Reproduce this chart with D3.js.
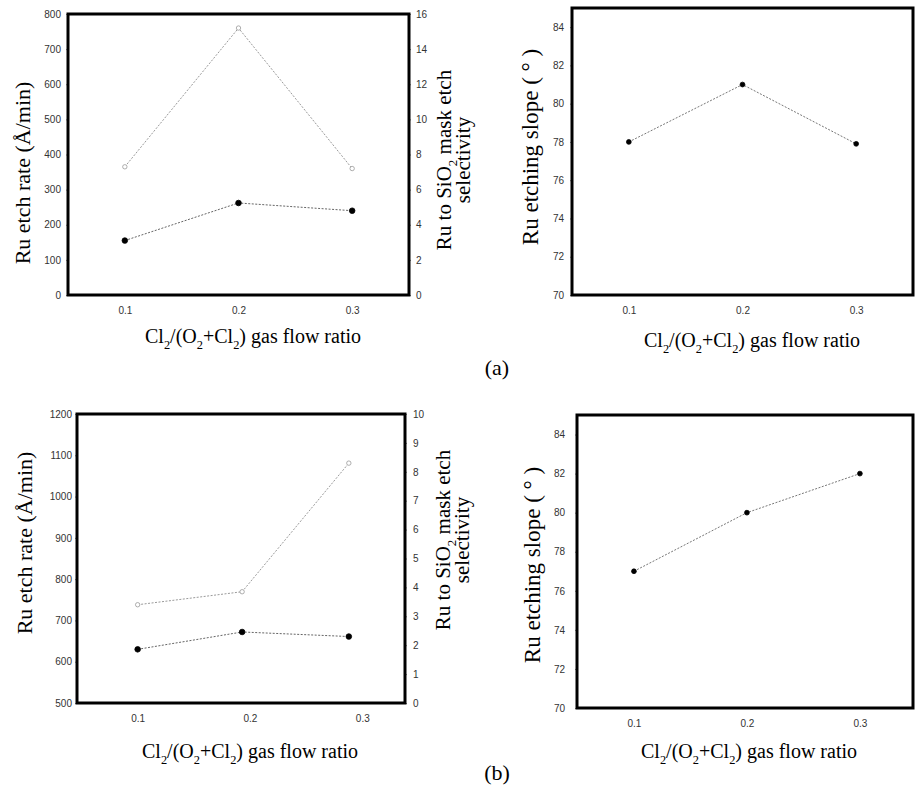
<!DOCTYPE html>
<html>
<head>
<meta charset="utf-8">
<script src="https://cdn.jsdelivr.net/npm/d3@7"></script>
<style>
  body { margin: 0; background: #fff; }
</style>
</head>
<body>
<div class="main"></div>
<script>
// gas flow ratio ticks
const ratioTicks = [0.1, 0.2, 0.3];

// (a) data
const ratioA = [0.1, 0.2, 0.3];
const etchRateA = [155, 262, 240];
const selectivityA = [7.3, 15.2, 7.2];
const slopeA = [78, 81, 77.9];

// (b) data
const ratioB = [0.1, 0.193, 0.288];
const etchRateB = [630, 672, 661];
const selectivityB = [3.4, 3.85, 8.3];
const ratioBSlope = [0.1, 0.2, 0.3];
const slopeB = [77, 80, 82];

// tick labels
const rateTicksA = [0, 100, 200, 300, 400, 500, 600, 700, 800];
const selTicksA = [0, 2, 4, 6, 8, 10, 12, 14, 16];
const slopeTicks = [70, 72, 74, 76, 78, 80, 82, 84];
const rateTicksB = [500, 600, 700, 800, 900, 1000, 1100, 1200];
const selTicksB = [0, 1, 2, 3, 4, 5, 6, 7, 8, 9, 10];

const serif = '"Liberation Serif", "Times New Roman", serif';
const sans = '"Liberation Sans", Arial, sans-serif';

let svg = d3.select('.main').append('svg')
  .attr('width', 916)
  .attr('height', 791);

// text with subscripts, each sub shifts down and the next part shifts back
let addRich = function(textSel, parts, size) {
  let shift = size * 0.3;
  let back = 0;
  parts.forEach(p => {
    let ts = textSel.append('tspan').text(p.t);
    if (p.sub) {
      ts.attr('dy', shift).attr('font-size', size * 0.62);
      back = -shift;
    } else if (back) {
      ts.attr('dy', back);
      back = 0;
    }
  });
};

let flowParts = [
  {t: 'Cl'}, {t: '2', sub: true}, {t: '/(O'}, {t: '2', sub: true},
  {t: '+Cl'}, {t: '2', sub: true}, {t: ') gas flow ratio'}
];

let styleTicks = function(axisG) {
  axisG.select('.domain').remove();
  axisG.selectAll('line').attr('stroke', '#888');
  axisG.selectAll('text').attr('font-family', sans).attr('font-size', 10).attr('fill', '#333');
};

let panel = function(cfg) {
  let x = d3.scaleLinear().domain(cfg.xDomain).range([cfg.left, cfg.right]);
  let y = d3.scaleLinear().domain(cfg.yDomain).range([cfg.bottom, cfg.top]);
  let g = svg.append('g');

  g.append('g')
    .attr('transform', `translate(${cfg.left},0)`)
    .call(d3.axisLeft(y).tickValues(cfg.yTicks).tickFormat(d3.format('d')).tickSize(2).tickPadding(cfg.padL))
    .call(styleTicks);

  if (cfg.y2Domain) {
    cfg.y2 = d3.scaleLinear().domain(cfg.y2Domain).range([cfg.bottom, cfg.top]);
    g.append('g')
      .attr('transform', `translate(${cfg.right},0)`)
      .call(d3.axisRight(cfg.y2).tickValues(cfg.y2Ticks).tickFormat(d3.format('d')).tickSize(2).tickPadding(cfg.padR))
      .call(styleTicks);
  }

  g.append('g')
    .attr('transform', `translate(0,${cfg.bottom})`)
    .call(d3.axisBottom(x).tickValues(ratioTicks).tickFormat(d3.format('.1f')).tickSize(0).tickPadding(cfg.padB))
    .call(styleTicks);

  // frame
  g.append('rect')
    .attr('x', cfg.left).attr('y', cfg.top)
    .attr('width', cfg.right - cfg.left).attr('height', cfg.bottom - cfg.top)
    .attr('fill', 'none').attr('stroke', '#000').attr('stroke-width', 3);

  // series
  cfg.series.forEach(s => {
    let ys = s.right ? cfg.y2 : y;
    let pts = s.xs.map((v, i) => [x(v), ys(s.ys[i])]);
    g.append('path')
      .attr('d', d3.line()(pts))
      .attr('fill', 'none')
      .attr('stroke', s.lineColor)
      .attr('stroke-width', 1)
      .attr('stroke-dasharray', '2,1.5');
    g.selectAll(null).data(pts).enter().append('circle')
      .attr('cx', d => d[0]).attr('cy', d => d[1])
      .attr('r', s.r)
      .attr('fill', s.fill)
      .attr('stroke', s.stroke)
      .attr('stroke-width', 0.8);
  });

  // x label
  let xl = g.append('text')
    .attr('x', cfg.xLabel[0]).attr('y', cfg.xLabel[1])
    .attr('text-anchor', 'middle').attr('font-family', serif).attr('font-size', 20).attr('fill', '#000');
  addRich(xl, flowParts, 20);

  // y label
  g.append('text')
    .attr('transform', `translate(${cfg.yLabel[0]},${cfg.yLabel[1]}) rotate(-90)`)
    .attr('text-anchor', 'middle').attr('dy', '0.35em')
    .attr('font-family', serif).attr('font-size', cfg.ySize).attr('fill', '#000')
    .text(cfg.yTitle);

  if (cfg.y2Label) {
    let t1 = g.append('text')
      .attr('transform', `translate(${cfg.y2Label[0]},${cfg.y2Label[1]}) rotate(-90)`)
      .attr('text-anchor', 'middle').attr('y', 7)
      .attr('font-family', serif).attr('font-size', 21).attr('fill', '#000');
    addRich(t1, [{t: 'Ru to SiO'}, {t: '2', sub: true}, {t: ' mask etch'}], 21);
    g.append('text')
      .attr('transform', `translate(${cfg.y2Label[0] + 19},${cfg.y2Label[1]}) rotate(-90)`)
      .attr('text-anchor', 'middle').attr('y', 7)
      .attr('font-family', serif).attr('font-size', 21).attr('fill', '#000')
      .text('selectivity');
  }
};

let rateStyle = {lineColor: '#666', fill: '#000', stroke: '#000', r: 2.8};
let selStyle = {lineColor: '#9a9a9a', fill: '#fff', stroke: '#999', r: 2.2};
let slopeStyle = {lineColor: '#777', fill: '#000', stroke: '#000', r: 2.4};

// (a) left
panel({
  left: 68, right: 409, top: 14, bottom: 295,
  xDomain: [0.05, 0.35], yDomain: [0, 800], yTicks: rateTicksA,
  y2Domain: [0, 16], y2Ticks: selTicksA,
  padL: 5, padR: 5, padB: 12,
  xLabel: [253, 343], yLabel: [22, 173], y2Label: [444, 160],
  yTitle: 'Ru etch rate (Å/min)', ySize: 22,
  series: [
    Object.assign({xs: ratioA, ys: selectivityA, right: true}, selStyle),
    Object.assign({xs: ratioA, ys: etchRateA}, rateStyle)
  ]
});

// (a) right
panel({
  left: 572, right: 913, top: 8, bottom: 295,
  xDomain: [0.05, 0.35], yDomain: [70, 85], yTicks: slopeTicks,
  padL: 6, padB: 12,
  xLabel: [752, 347], yLabel: [530, 147],
  yTitle: 'Ru etching slope ( ° )', ySize: 23,
  series: [Object.assign({xs: ratioA, ys: slopeA}, slopeStyle)]
});

// (b) left
panel({
  left: 77, right: 405, top: 414, bottom: 703,
  xDomain: [0.046, 0.338], yDomain: [500, 1200], yTicks: rateTicksB,
  y2Domain: [0, 10], y2Ticks: selTicksB,
  padL: 3, padR: 6, padB: 12,
  xLabel: [250, 758], yLabel: [24, 543], y2Label: [443, 540],
  yTitle: 'Ru etch rate (Å/min)', ySize: 22,
  series: [
    Object.assign({xs: ratioB, ys: selectivityB, right: true}, selStyle),
    Object.assign({xs: ratioB, ys: etchRateB}, rateStyle)
  ]
});

// (b) right
panel({
  left: 577, right: 913, top: 415, bottom: 708,
  xDomain: [0.0496, 0.347], yDomain: [70, 85], yTicks: slopeTicks,
  padL: 10, padB: 12,
  xLabel: [749, 758], yLabel: [532, 565],
  yTitle: 'Ru etching slope ( ° )', ySize: 23,
  series: [Object.assign({xs: ratioBSlope, ys: slopeB}, slopeStyle)]
});

svg.append('text')
  .attr('x', 497).attr('y', 375).attr('text-anchor', 'middle')
  .attr('font-family', serif).attr('font-size', 22).attr('fill', '#000')
  .text('(a)');
svg.append('text')
  .attr('x', 497).attr('y', 780).attr('text-anchor', 'middle')
  .attr('font-family', serif).attr('font-size', 22).attr('fill', '#000')
  .text('(b)');
</script>
</body>
</html>
